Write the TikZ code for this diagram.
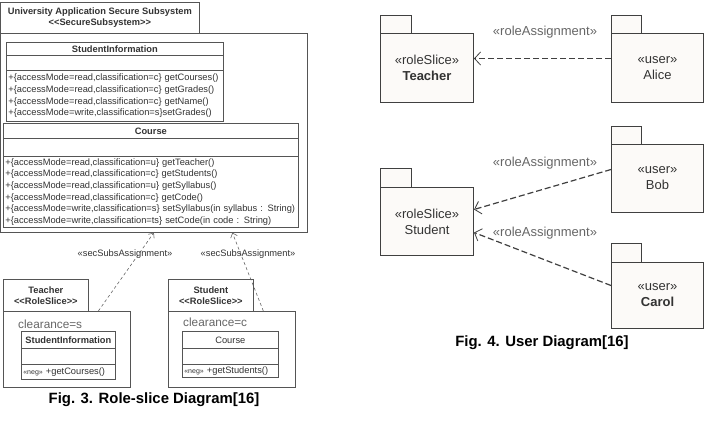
\documentclass[tikz,border=0pt]{standalone}
\usepackage{fontspec}
\setmainfont{Liberation Sans}
\usetikzlibrary{arrows.meta}
\definecolor{linec}{HTML}{555555}
\definecolor{txtc}{HTML}{333333}
\definecolor{greyc}{HTML}{666666}
\definecolor{pkgline}{HTML}{404040}
\definecolor{pkgfill}{HTML}{FCFAF8}
\newcommand\ltlt{<\kern0pt<}
\newcommand\gtgt{>\kern0pt>}
\newcommand\clsfont{\fontsize{9.3}{11}\selectfont\bfseries}
\newcommand\opfont{\fontsize{9.3}{11.6}\selectfont}
\newcommand\pkgfont{\fontsize{13}{16}\selectfont}
\newcommand\capfont{\fontsize{14.9}{18}\selectfont\bfseries}

\begin{document}
\begin{tikzpicture}[x=1pt,y=-1pt]
    \tikzstyle{every node}=[inner sep=0pt,text=txtc]
    \tikzstyle{box}=[draw=linec,fill=white,rectangle,anchor=north west,line width=0.7pt]
    \tikzstyle{ops}=[box,align=left,font=\opfont,inner sep=2pt]
    \tikzstyle{pkg}=[draw=pkgline,fill=pkgfill,rectangle,anchor=north west,line width=1pt,align=center,font=\pkgfont]
    \tikzstyle{secdep}=[draw=greyc,line width=0.6pt,dash pattern=on 3pt off 2.5pt,-{Straight Barb[length=4pt,width=7pt]}]
    \tikzstyle{dep}=[draw=pkgline,line width=1.2pt,dash pattern=on 6pt off 3pt,-{Straight Barb[length=6pt,width=13pt,line width=0.8pt]}]
    \useasboundingbox (0,0) rectangle (710,426);
    %%%%% role-slice diagram
    \draw (0,33) node[box,minimum width=307pt,minimum height=199pt] (subsys) {};
    \draw (0,2) node[box,minimum width=199pt,minimum height=31pt,align=center,font=\clsfont] (subtab) {University Application Secure Subsystem\\\ltlt SecureSubsystem\gtgt};
    \draw (6,42) node[box,minimum width=217pt,minimum height=13pt,font=\clsfont] (sinfo) {StudentInformation};
    \draw (6,55) node[box,minimum width=217pt,minimum height=15pt] (sinfoatt) {};
    \draw (6,70) node[ops,text width=213pt,minimum height=51pt] (sinfoops) {+\{accessMode=read,classification=c\} getCourses()\\+\{accessMode=read,classification=c\} getGrades()\\+\{accessMode=read,classification=c\} getName()\\+\{accessMode=write,classification=s\}setGrades()};
    \draw (3,123) node[box,minimum width=295pt,minimum height=15pt,font=\clsfont] (course) {Course};
    \draw (3,138) node[box,minimum width=295pt,minimum height=18pt] (courseatt) {};
    \draw (3,156) node[ops,text width=291pt,minimum height=71pt] (courseops) {+\{accessMode=read,classification=u\} getTeacher()\\+\{accessMode=read,classification=c\} getStudents()\\+\{accessMode=read,classification=u\} getSyllabus()\\+\{accessMode=read,classification=c\} getCode()\\+\{accessMode=write,classification=s\} setSyllabus(in syllabus : String)\\+\{accessMode=write,classification=ts\} setCode(in code : String)};
    %%%%
    \draw (3,311) node[box,minimum width=127pt,minimum height=76pt] (tbody) {};
    \draw (3,279) node[box,minimum width=85pt,minimum height=32pt,align=center,font=\clsfont] (ttab) {Teacher\\\ltlt RoleSlice\gtgt};
    \draw (18,324) node[anchor=west,text=greyc,font=\fontsize{11.8}{14}\selectfont] (tclear) {clearance=s};
    \draw (21,331) node[box,minimum width=94pt,minimum height=17pt,font=\clsfont] (tcls) {StudentInformation};
    \draw (21,348) node[box,minimum width=94pt,minimum height=16pt] (tclsatt) {};
    \draw (21,364) node[ops,text width=90pt,minimum height=15pt] (tclsops) {{\fontsize{7}{8}\selectfont«neg»} +getCourses()};
    \draw (168,311) node[box,minimum width=127pt,minimum height=76pt] (sbody) {};
    \draw (168,279) node[box,minimum width=85pt,minimum height=32pt,align=center,font=\clsfont] (stab) {Student\\\ltlt RoleSlice\gtgt};
    \draw (183,322) node[anchor=west,text=greyc,font=\fontsize{11.8}{14}\selectfont] (sclear) {clearance=c};
    \draw (182,331) node[box,minimum width=96pt,minimum height=17pt,font=\opfont] (scls) {Course};
    \draw (182,348) node[box,minimum width=96pt,minimum height=16pt] (sclsatt) {};
    \draw (182,364) node[ops,text width=92pt,minimum height=13pt] (sclsops) {{\fontsize{7}{8}\selectfont«neg»} +getStudents()};
    \draw[secdep] ([xshift=31.5pt]tbody.north) -- (subsys.south);
    \draw[secdep] ([xshift=31.5pt]sbody.north) -- ([xshift=78.5pt]subsys.south);
    \draw (125,254) node[font=\opfont] (tlab) {«secSubsAssignment»};
    \draw (248,254) node[font=\opfont] (slab) {«secSubsAssignment»};
    \draw (154,400) node[text=black,font=\capfont] (cap3) {Fig. 3. Role-slice Diagram[16]};
    %%%%% user diagram
    \draw (380,15) node[pkg,minimum width=31pt,minimum height=18pt] (teachtab) {};
    \draw (380,33) node[pkg,minimum width=93pt,minimum height=69pt] (teacher) {«roleSlice»\\\textbf{Teacher}};
    \draw (380,168) node[pkg,minimum width=31pt,minimum height=19pt] (studtab) {};
    \draw (380,187) node[pkg,minimum width=93pt,minimum height=68pt] (student) {«roleSlice»\\Student};
    \draw (611,15) node[pkg,minimum width=30pt,minimum height=18pt] (alicetab) {};
    \draw (611,33) node[pkg,minimum width=92pt,minimum height=69pt] (alice) {«user»\\Alice};
    \draw (611,126) node[pkg,minimum width=30pt,minimum height=18pt] (bobtab) {};
    \draw (611,144) node[pkg,minimum width=92pt,minimum height=68pt] (bob) {«user»\\Bob};
    \draw (611,243) node[pkg,minimum width=30pt,minimum height=19pt] (caroltab) {};
    \draw (611,262) node[pkg,minimum width=92pt,minimum height=66pt] (carol) {«user»\\\textbf{Carol}};
    \draw[dep] ([yshift=9.5pt]alice.west) -- ([yshift=9.5pt]teacher.east);
    \draw[dep] ([yshift=9pt]bob.west) -- ([yshift=12pt]student.east);
    \draw[dep] ([yshift=10pt]carol.west) -- ([yshift=-11pt]student.east);
    \draw (545,32) node[font=\pkgfont,text=greyc] (alab) {«roleAssignment»};
    \draw (545,163) node[font=\pkgfont,text=greyc] (blab) {«roleAssignment»};
    \draw (545,233) node[font=\pkgfont,text=greyc] (clab) {«roleAssignment»};
    \draw (542,343) node[text=black,font=\capfont] (cap4) {Fig. 4. User Diagram[16]};
\end{tikzpicture}
\end{document}
